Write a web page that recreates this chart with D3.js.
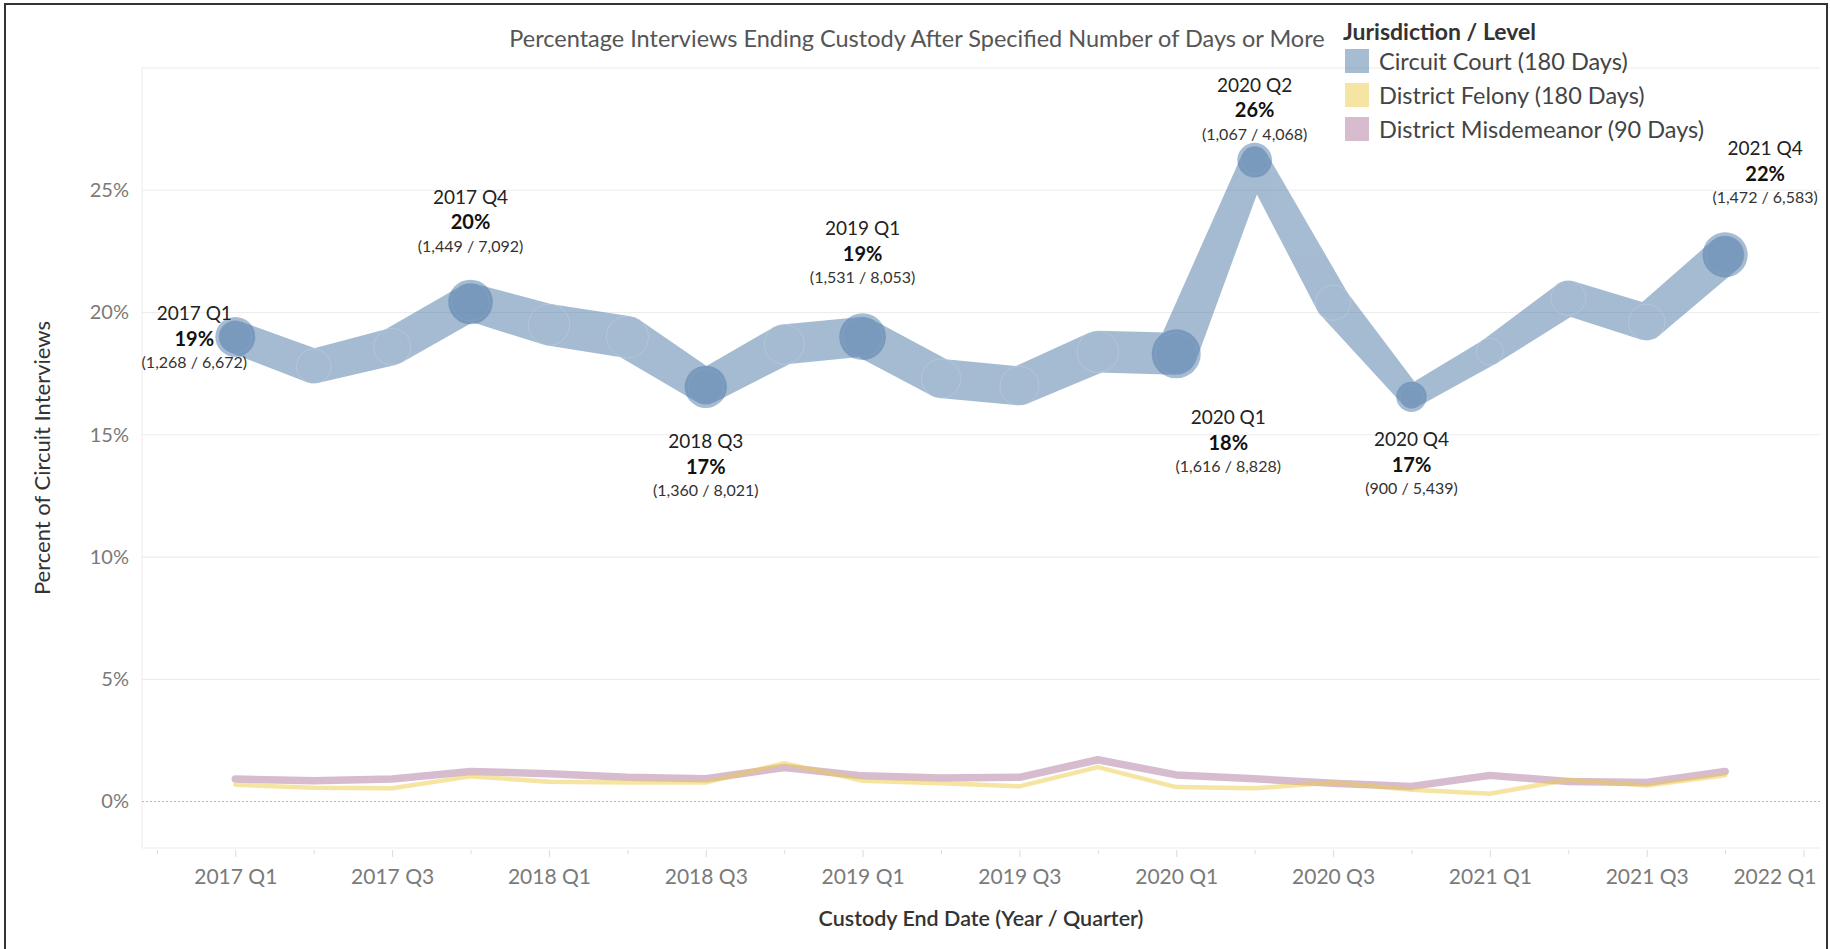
<!DOCTYPE html>
<html>
<head>
<meta charset="utf-8">
<script src="https://cdn.jsdelivr.net/npm/d3@7"></script>
<style>
  body { margin: 0; background: #fff; }
  text { font-family: Lato, 'Open Sans', sans-serif; }
</style>
</head>
<body>
<div id="canvas"></div>
<script>
const quarters = [
  '2017 Q1', '2017 Q2', '2017 Q3', '2017 Q4',
  '2018 Q1', '2018 Q2', '2018 Q3', '2018 Q4',
  '2019 Q1', '2019 Q2', '2019 Q3', '2019 Q4',
  '2020 Q1', '2020 Q2', '2020 Q3', '2020 Q4',
  '2021 Q1', '2021 Q2', '2021 Q3', '2021 Q4'
]

// percent of interviews
const circuitPct = [19.00, 17.8, 18.6, 20.43, 19.5, 19.0, 16.96, 18.7, 19.01, 17.3,
                    17.0, 18.4, 18.31, 26.23, 20.4, 16.55, 18.4, 20.6, 19.6, 22.36]
// interviews ending custody (line size); unlabeled quarters estimated from line width
const circuitCount = [1268, 1330, 1420, 1449, 1590, 1615, 1360, 1540, 1531, 1510,
                      1500, 1600, 1616, 1067, 1350, 900, 1040, 1340, 1400, 1472]
const felonyPct = [0.69, 0.56, 0.54, 1.03, 0.81, 0.78, 0.78, 1.57, 0.85, 0.75,
                   0.62, 1.41, 0.59, 0.54, 0.78, 0.48, 0.32, 0.89, 0.66, 1.07]
const misdemeanorPct = [0.92, 0.85, 0.92, 1.23, 1.14, 0.99, 0.93, 1.39, 1.05, 0.96,
                        0.99, 1.71, 1.09, 0.93, 0.75, 0.62, 1.07, 0.82, 0.78, 1.23]

const labeledQuarters = ['2017 Q1', '2017 Q4', '2018 Q3', '2019 Q1', '2020 Q1', '2020 Q2', '2020 Q4', '2021 Q4']
const labeledNum = [1268, 1449, 1360, 1531, 1616, 1067, 900, 1472]
const labeledDen = [6672, 7092, 8021, 8053, 8828, 4068, 5439, 6583]

const yTicks = [0, 5, 10, 15, 20, 25]
const xTickLabels = ['2017 Q1', '2017 Q3', '2018 Q1', '2018 Q3', '2019 Q1', '2019 Q3',
                     '2020 Q1', '2020 Q3', '2021 Q1', '2021 Q3', '2022 Q1']
const seriesNames = ['Circuit Court (180 Days)', 'District Felony (180 Days)', 'District Misdemeanor (90 Days)']
const seriesColors = ['#4e79a7', '#edc948', '#b07aa1']

const width = 1830
const height = 949
const plot = { left: 142, right: 1820, top: 68, bottom: 848 }

// where each data label sits relative to its point
const labelLayout = {
  '2017 Q1': [-41, 1], '2017 Q4': [0, -81], '2018 Q3': [0, 79], '2019 Q1': [0, -84],
  '2020 Q1': [52, 88], '2020 Q2': [0, -51], '2020 Q4': [0, 67], '2021 Q4': [40, -82]
}

const svg = d3.select('#canvas')
  .append('svg')
    .attr('width', width)
    .attr('height', height)

svg.append('rect')
  .attr('x', 5).attr('y', 4)
  .attr('width', 1822).attr('height', 970)
  .attr('fill', '#fff')
  .attr('stroke', '#333')
  .attr('stroke-width', 2)

const x = d3.scaleLinear()
  .domain([-1.19, 20.21])
  .range([plot.left, plot.right])

const y = d3.scaleLinear()
  .domain([-1.9, 30])
  .range([plot.bottom, plot.top])

const lineWidth = d3.scaleLinear().domain([0, 1616]).range([0, 42])
const dotRadius = d3.scaleLinear().domain([900, 1616]).range([15.2, 24.5])

// grid
svg.append('g').selectAll('line')
  .data([5, 10, 15, 20, 25, 30])
  .enter()
  .append('line')
    .attr('x1', plot.left).attr('x2', plot.right)
    .attr('y1', d => y(d)).attr('y2', d => y(d))
    .attr('stroke', '#ececec')
    .attr('stroke-width', 1.2)

svg.append('line')
  .attr('x1', plot.left).attr('x2', plot.left)
  .attr('y1', plot.top).attr('y2', plot.bottom)
  .attr('stroke', '#ececec')
svg.append('line')
  .attr('x1', plot.left).attr('x2', plot.right)
  .attr('y1', plot.bottom).attr('y2', plot.bottom)
  .attr('stroke', '#ececec')
svg.append('line')
  .attr('x1', plot.left).attr('x2', plot.right)
  .attr('y1', y(0)).attr('y2', y(0))
  .attr('stroke', '#b8b8b8')
  .attr('stroke-dasharray', '2,2')

// axes
const yAxis = svg.append('g')
  .attr('transform', `translate(${plot.left}, 0)`)
  .call(d3.axisLeft(y).tickValues(yTicks).tickSize(0).tickPadding(13).tickFormat(d => `${d}%`))
yAxis.select('.domain').remove()
yAxis.selectAll('text')
  .attr('font-size', '20px')
  .attr('fill', '#7a7a7a')
  .style('font-family', 'Lato, sans-serif')

const xAxis = svg.append('g')
  .attr('transform', `translate(0, ${plot.bottom})`)
  .call(d3.axisBottom(x)
    .tickValues(d3.range(-1, 21))
    .tickSize(9)
    .tickFormat(i => i % 2 === 0 ? xTickLabels[i / 2] : ''))
xAxis.select('.domain').remove()
xAxis.selectAll('.tick line')
  .attr('stroke', '#dcdcdc')
  .attr('y1', 2)
  .attr('y2', d => d % 2 === 0 ? 9 : 6)
xAxis.selectAll('.tick text')
  .attr('y', 29)
  .attr('dy', '0.35em')
  .attr('font-size', '21px')
  .attr('fill', '#7a7a7a')
  .style('font-family', 'Lato, sans-serif')
  .each(function() {
    const b = this.getBBox()
    const tx = x(d3.select(this.parentNode).datum())
    const over = tx + b.width / 2 - (plot.right - 4)
    if (over > 0) d3.select(this).attr('x', -over)
  })

// titles
svg.append('text')
  .attr('x', 917).attr('y', 38)
  .attr('text-anchor', 'middle')
  .attr('dominant-baseline', 'central')
  .attr('font-size', '23.5px')
  .attr('fill', '#555')
  .text('Percentage Interviews Ending Custody After Specified Number of Days or More')

svg.append('text')
  .attr('x', (plot.left + plot.right) / 2).attr('y', 918)
  .attr('text-anchor', 'middle')
  .attr('dominant-baseline', 'central')
  .attr('font-size', '21.5px')
  .attr('font-weight', 600)
  .attr('fill', '#333')
  .text('Custody End Date  (Year / Quarter)')

svg.append('text')
  .attr('transform', `translate(41, ${(plot.top + plot.bottom) / 2}) rotate(-90)`)
  .attr('text-anchor', 'middle')
  .attr('dominant-baseline', 'central')
  .attr('font-size', '22px')
  .attr('fill', '#333')
  .text('Percent of Circuit Interviews')

// district lines
const line = d3.line()
  .x((d, i) => x(i))
  .y(d => y(d))

svg.append('g').attr('opacity', 0.5)
  .append('path')
    .datum(misdemeanorPct)
    .attr('d', line)
    .attr('fill', 'none')
    .attr('stroke', seriesColors[2])
    .attr('stroke-width', 7.5)
    .attr('stroke-linejoin', 'round')
    .attr('stroke-linecap', 'round')

svg.append('g').attr('opacity', 0.5)
  .append('path')
    .datum(felonyPct)
    .attr('d', line)
    .attr('fill', 'none')
    .attr('stroke', seriesColors[1])
    .attr('stroke-width', 4.5)
    .attr('stroke-linejoin', 'round')
    .attr('stroke-linecap', 'round')

// circuit line: width follows the count, tapering between quarters
const pts = circuitPct.map((v, i) => ({ x: x(i), y: y(v), r: lineWidth(circuitCount[i]) / 2 }))
const segs = d3.pairs(pts).map(([a, b]) => {
  const len = Math.hypot(b.x - a.x, b.y - a.y)
  const nx = -(b.y - a.y) / len
  const ny = (b.x - a.x) / len
  return [
    [a.x + nx * a.r, a.y + ny * a.r],
    [b.x + nx * b.r, b.y + ny * b.r],
    [b.x - nx * b.r, b.y - ny * b.r],
    [a.x - nx * a.r, a.y - ny * a.r]
  ]
})

const circuitG = svg.append('g').attr('opacity', 0.5)
circuitG.selectAll('polygon')
  .data(segs)
  .enter()
  .append('polygon')
    .attr('points', d => d.join(' '))
    .attr('fill', seriesColors[0])
circuitG.selectAll('circle')
  .data(pts)
  .enter()
  .append('circle')
    .attr('cx', d => d.x).attr('cy', d => d.y).attr('r', d => d.r)
    .attr('fill', seriesColors[0])

svg.append('g').selectAll('circle')
  .data(pts)
  .enter()
  .append('circle')
    .attr('cx', d => d.x).attr('cy', d => d.y).attr('r', d => d.r)
    .attr('fill', 'none')
    .attr('stroke', '#fff')
    .attr('stroke-opacity', 0.16)
    .attr('stroke-width', 1)

const marked = labeledQuarters.map((q, k) => {
  const i = quarters.indexOf(q)
  return { q, i, num: labeledNum[k], den: labeledDen[k] }
})

svg.append('g').attr('opacity', 0.5)
  .selectAll('circle')
  .data(marked)
  .enter()
  .append('circle')
    .attr('cx', d => x(d.i))
    .attr('cy', d => y(circuitPct[d.i]))
    .attr('r', d => dotRadius(d.num))
    .attr('fill', seriesColors[0])

// data labels
const fmt = d3.format(',')
const lab = svg.append('g').selectAll('g')
  .data(marked)
  .enter()
  .append('g')
    .attr('transform', d => {
      const [dx, dy] = labelLayout[d.q]
      return `translate(${x(d.i) + dx}, ${y(circuitPct[d.i]) + dy})`
    })
    .attr('text-anchor', 'middle')

lab.append('text')
  .attr('y', -25)
  .attr('dominant-baseline', 'central')
  .attr('font-size', '19px')
  .attr('fill', '#222')
  .text(d => d.q)
lab.append('text')
  .attr('dominant-baseline', 'central')
  .attr('font-size', '20px')
  .attr('font-weight', 700)
  .attr('fill', '#111')
  .text(d => `${Math.round(d.num / d.den * 100)}%`)
lab.append('text')
  .attr('y', 24)
  .attr('dominant-baseline', 'central')
  .attr('font-size', '16px')
  .attr('fill', '#333')
  .text(d => `(${fmt(d.num)} / ${fmt(d.den)})`)

// legend
const legend = svg.append('g').attr('transform', 'translate(1343, 0)')
legend.append('text')
  .attr('x', 0).attr('y', 31)
  .attr('dominant-baseline', 'central')
  .attr('font-size', '23px')
  .attr('font-weight', 700)
  .attr('fill', '#333')
  .text('Jurisdiction / Level')

const items = legend.selectAll('.item')
  .data(seriesNames)
  .enter()
  .append('g')
    .attr('class', 'item')
    .attr('transform', (d, i) => `translate(0, ${61 + i * 34})`)
items.append('rect')
  .attr('x', 2).attr('y', -12)
  .attr('width', 24).attr('height', 24)
  .attr('fill', (d, i) => seriesColors[i])
  .attr('fill-opacity', 0.5)
items.append('text')
  .attr('x', 36)
  .attr('dominant-baseline', 'central')
  .attr('font-size', '23.5px')
  .attr('fill', '#444')
  .text(d => d)
</script>
</body>
</html>
